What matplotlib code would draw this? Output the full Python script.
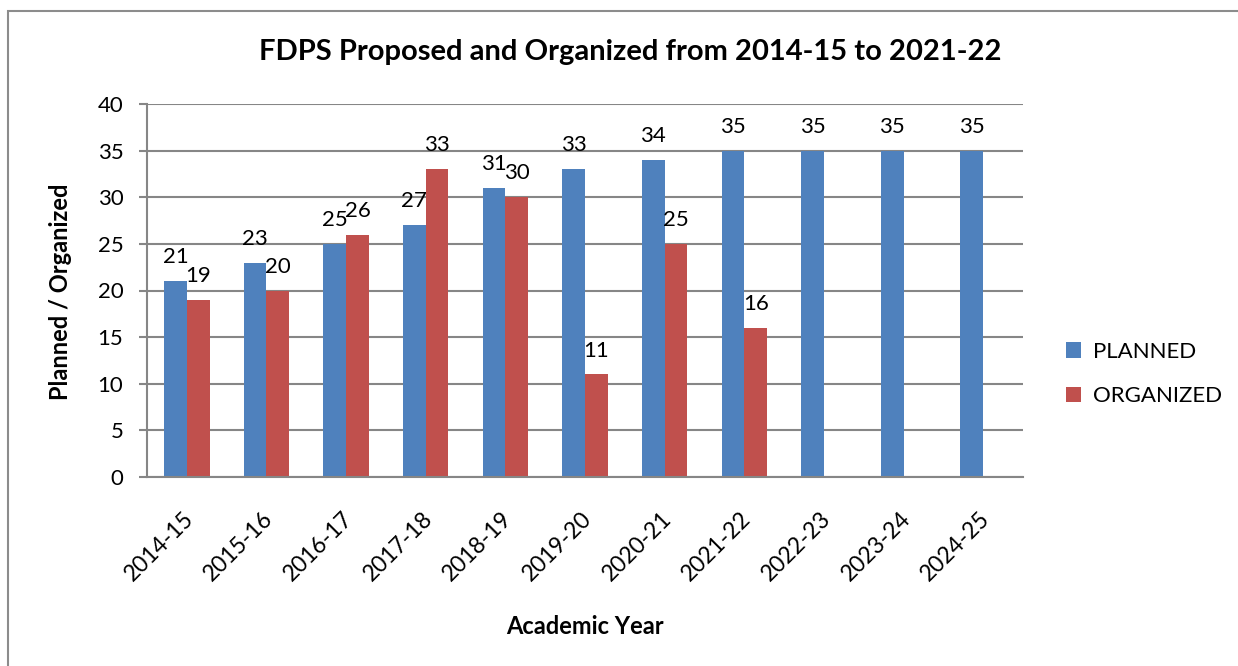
import numpy as np
import matplotlib.pyplot as plt
from matplotlib.patches import Rectangle
from matplotlib.transforms import ScaledTranslation

years = ["2014-15", "2015-16", "2016-17", "2017-18", "2018-19", "2019-20",
         "2020-21", "2021-22", "2022-23", "2023-24", "2024-25"]
planned = [21, 23, 25, 27, 31, 33, 34, 35, 35, 35, 35]
organized = [19, 20, 26, 33, 30, 11, 25, 16]

BLUE = "#4F81BD"
RED = "#C0504D"
GRID = "#868686"

plt.rcParams["font.family"] = ["Lato", "DejaVu Sans"]

fig = plt.figure(figsize=(12.38, 6.66), dpi=100)
W, H = 1238, 666
# рамка вокруг диаграммы
fig.patches.append(Rectangle((8 / W, -0.1), 1.2, 1 - 11 / H + 0.1, transform=fig.transFigure,
                             fill=False, edgecolor="#8c8c8c", linewidth=1.5))

ax = fig.add_axes([147 / W, 1 - 477 / H, (1023 - 147) / W, (477 - 104) / H])

x = np.arange(len(years))
bw = 1 / 3.5
b1 = ax.bar(x - bw / 2, planned, bw, color=BLUE, label="PLANNED")
b2 = ax.bar(x[:len(organized)] + bw / 2, organized, bw, color=RED, label="ORGANIZED")
ax.bar_label(b1, padding=10, fontsize=16)
ax.bar_label(b2, padding=10, fontsize=16)

ax.set_xlim(-0.5, len(years) - 0.5)
ax.set_ylim(0, 40)
ax.set_yticks(range(0, 41, 5))
ax.yaxis.grid(True, color=GRID, linewidth=1.5)
ax.set_axisbelow(True)
for s in ["top", "right"]:
    ax.spines[s].set_visible(False)
ax.spines["left"].set_color(GRID)
ax.spines["bottom"].set_color(GRID)
ax.spines["left"].set_linewidth(1.5)
ax.spines["bottom"].set_linewidth(1.5)
ax.tick_params(axis="y", length=6, width=1.5, color=GRID, labelsize=16, pad=11)
ax.tick_params(axis="x", length=0, labelsize=16.5, pad=22)
ax.set_xticks(x)
ax.set_xticklabels(years, rotation=45, ha="right", rotation_mode="anchor")
shift = ScaledTranslation(-4 / 100, 0, fig.dpi_scale_trans)
for lbl in ax.get_xticklabels():
    lbl.set_transform(lbl.get_transform() + shift)

fig.text(630 / W, 1 - 52 / H, "FDPS Proposed and Organized from 2014-15 to 2021-22",
         ha="center", va="center", fontsize=21, fontweight="bold")
fig.text(585 / W, 1 - 627 / H, "Academic Year", ha="center", va="center",
         fontsize=17, fontweight="bold")
fig.text(60 / W, 1 - 292 / H, "Planned / Organized", ha="center", va="center",
         rotation=90, fontsize=17, fontweight="bold")

fig.legend(handles=[b1, b2], loc="center left", bbox_to_anchor=(1066 / W, 1 - 374 / H),
           frameon=False, fontsize=16, handlelength=0.68, handleheight=0.68,
           labelspacing=1.1, handletextpad=0.55, borderpad=0, borderaxespad=0)

fig.savefig("out.png", dpi=100, facecolor="white")
